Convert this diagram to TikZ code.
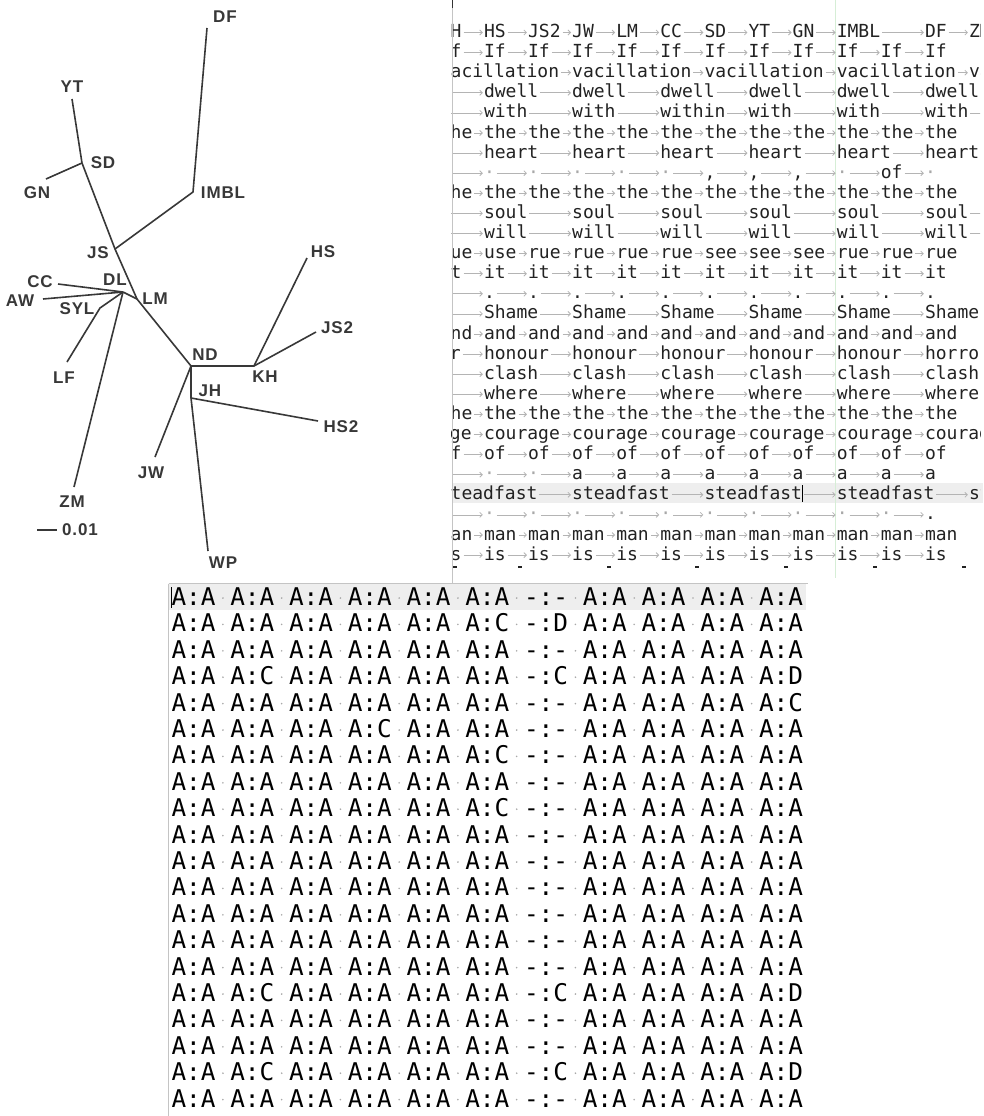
\documentclass[tikz,border=0pt]{standalone}
\usepackage{fontspec}
\usetikzlibrary{arrows.meta}
\newfontfamily\treefont{Liberation Sans}[LetterSpace=5]
\newfontfamily\monofont{DejaVu Sans Mono}
\definecolor{ink}{HTML}{383838}
\definecolor{txt}{HTML}{222222}
\definecolor{arrc}{HTML}{B4B4B4}
\definecolor{dotc}{HTML}{A8A8A8}
\definecolor{border}{HTML}{C4C4C4}
\definecolor{hl}{HTML}{EEEEEE}
\definecolor{grn}{HTML}{D6EED6}
\newcommand\tdot{\textcolor{dotc}{·}}
\newcommand\tcomma{,}
\tikzset{
 lbl/.style={font=\treefont\bfseries\fontsize{17}{17}\selectfont, text=ink, inner sep=0},
 br/.style={draw=ink, line width=1.6pt, line join=round},
 tok/.style={font=\monofont\fontsize{18}{18}\selectfont, text=txt, inner sep=0, outer sep=0, anchor=base west},
 arr/.style={draw=arrc, line width=0.8pt, -{Straight Barb[length=2.5pt,width=5pt]}},
 cell/.style={font=\monofont\fontsize{24.4}{24.4}\selectfont, text=black, inner sep=0, outer sep=0, anchor=base west},
}
\newcommand\trow[2]{%
  \foreach \kq/\tw [count=\ii, remember=\ii as \jj (initially 0)] in {#2}{%
    \node[tok] (r#1n\ii) at ({484+44.1*(\kq-1)},{31+20.1*(#1-1)+6.5}) {\tw};
    \ifnum\ii>1
      \draw[arr] ([xshift=2pt,yshift=5pt]r#1n\jj.base east) -- ([xshift=-1.2pt,yshift=5pt]r#1n\ii.base west);
    \fi
  }%
}
\newcommand\brow[2]{%
  \foreach \itm [count=\kk] in {#2}{%
    \node[cell] (b#1c\kk) at ({171.5+58.75*(\kk-1)},{597+26.4*(#1-1)+8.5}) {\itm};
  }%
  \foreach \kk in {1,...,10}{%
    \fill[dotc] ({171.5+58.75*(\kk-1)+51.4},{597+26.4*(#1-1)+1}) circle (0.9);
  }%
}
\begin{document}
\begin{tikzpicture}[x=1pt,y=-1pt]
\useasboundingbox[fill=white] (0,0) rectangle (983,1116);
% ---------------- tree ----------------
\coordinate (df) at (207,28);
\coordinate (imbl) at (193,192);
\coordinate (js) at (115,249);
\coordinate (yt) at (72,99);
\coordinate (sd) at (82,163);
\coordinate (gn) at (46,179);
\coordinate (lm) at (137,299);
\coordinate (dl) at (123,292);
\coordinate (cc) at (58,284);
\coordinate (aw) at (43,299);
\coordinate (syl) at (100,308);
\coordinate (lf) at (67,362);
\coordinate (zm) at (74,487);
\coordinate (nd) at (191,366);
\coordinate (kh) at (254,366);
\coordinate (hs) at (307,258);
\coordinate (js2) at (316,332);
\coordinate (jh) at (191,398);
\coordinate (hs2) at (318,421);
\coordinate (jw) at (155,457);
\coordinate (wp) at (208,551);
\coordinate (sa) at (37,530);
\coordinate (sb) at (57,530);
\draw[br] (df) -- (imbl) -- (js);
\draw[br] (yt) -- (sd) -- (js) -- (lm) -- (nd) -- (kh) -- (hs);
\draw[br] (gn) -- (sd);
\draw[br] (kh) -- (js2);
\draw[br] (lm) -- (dl);
\draw[br] (cc) -- (dl);
\draw[br] (aw) -- (dl);
\draw[br] (lf) -- (syl) -- (dl);
\draw[br] (zm) -- (dl);
\draw[br] (nd) -- (jh) -- (wp);
\draw[br] (jh) -- (hs2);
\draw[br] (nd) -- (jw);
\draw[br] (sa) -- (sb);
\node[lbl] (lDF) at (225,17) {DF};
\node[lbl] (lYT) at (72,87) {YT};
\node[lbl] (lSD) at (103,163) {SD};
\node[lbl] (lGN) at (37,193) {GN};
\node[lbl] (lIMBL) at (223,193) {IMBL};
\node[lbl] (lJS) at (98,253) {JS};
\node[lbl] (lCC) at (40,282) {CC};
\node[lbl] (lDL) at (115,280) {DL};
\node[lbl] (lAW) at (20,301) {AW};
\node[lbl] (lSYL) at (77,309) {SYL};
\node[lbl] (lLM) at (155,299) {LM};
\node[lbl] (lLF) at (64,378) {LF};
\node[lbl] (lZM) at (72,502) {ZM};
\node[lbl] (lND) at (205,355) {ND};
\node[lbl] (lKH) at (265,377) {KH};
\node[lbl] (lJH) at (210,391) {JH};
\node[lbl] (lHS) at (323,252) {HS};
\node[lbl] (lJS2) at (337,328) {JS2};
\node[lbl] (lHS2) at (341,427) {HS2};
\node[lbl] (lJW) at (151,473) {JW};
\node[lbl] (lWP) at (223,563) {WP};
\node[lbl] (lscale) at (80,530) {0.01};
% ---------------- top-right panel ----------------
\fill[hl] (453,483) rectangle (983,503);
\draw[grn, line width=1pt] (835.5,0) -- (835.5,578);
\begin{scope}
\clip (451,0) rectangle (980,578);
\trow{1}{0/KH,1/HS,2/JS2,3/JW,4/LM,5/CC,6/SD,7/YT,8/GN,9/IMBL,11/DF,12/ZM}
\trow{2}{0/If,1/If,2/If,3/If,4/If,5/If,6/If,7/If,8/If,9/If,10/If,11/If}
\trow{3}{0/vacillation,3/vacillation,6/vacillation,9/vacillation,12/vacillation}
\trow{4}{-1/dwell,1/dwell,3/dwell,5/dwell,7/dwell,9/dwell,11/dwell}
\trow{5}{-1/with,1/with,3/with,5/within,7/with,9/with,11/with,13/with}
\trow{6}{0/the,1/the,2/the,3/the,4/the,5/the,6/the,7/the,8/the,9/the,10/the,11/the}
\trow{7}{-1/heart,1/heart,3/heart,5/heart,7/heart,9/heart,11/heart}
\trow{8}{0/\tdot,1/\tdot,2/\tdot,3/\tdot,4/\tdot,5/\tdot,6/\tcomma,7/\tcomma,8/\tcomma,9/\tdot,10/of,11/\tdot}
\trow{9}{0/the,1/the,2/the,3/the,4/the,5/the,6/the,7/the,8/the,9/the,10/the,11/the}
\trow{10}{-1/soul,1/soul,3/soul,5/soul,7/soul,9/soul,11/soul,13/soul}
\trow{11}{-1/will,1/will,3/will,5/will,7/will,9/will,11/will,13/will}
\trow{12}{0/rue,1/use,2/rue,3/rue,4/rue,5/rue,6/see,7/see,8/see,9/rue,10/rue,11/rue}
\trow{13}{0/it,1/it,2/it,3/it,4/it,5/it,6/it,7/it,8/it,9/it,10/it,11/it}
\trow{14}{0/.,1/.,2/.,3/.,4/.,5/.,6/.,7/.,8/.,9/.,10/.,11/.}
\trow{15}{-1/Shame,1/Shame,3/Shame,5/Shame,7/Shame,9/Shame,11/Shame}
\trow{16}{0/and,1/and,2/and,3/and,4/and,5/and,6/and,7/and,8/and,9/and,10/and,11/and}
\trow{17}{-1/honour,1/honour,3/honour,5/honour,7/honour,9/honour,11/horror}
\trow{18}{-1/clash,1/clash,3/clash,5/clash,7/clash,9/clash,11/clash}
\trow{19}{-1/where,1/where,3/where,5/where,7/where,9/where,11/where}
\trow{20}{0/the,1/the,2/the,3/the,4/the,5/the,6/the,7/the,8/the,9/the,10/the,11/the}
\trow{21}{-1/courage,1/courage,3/courage,5/courage,7/courage,9/courage,11/courage}
\trow{22}{0/of,1/of,2/of,3/of,4/of,5/of,6/of,7/of,8/of,9/of,10/of,11/of}
\trow{23}{0/\tdot,1/\tdot,2/\tdot,3/a,4/a,5/a,6/a,7/a,8/a,9/a,10/a,11/a}
\trow{24}{0/steadfast,3/steadfast,6/steadfast,9/steadfast,12/steadfast}
\trow{25}{0/\tdot,1/\tdot,2/\tdot,3/\tdot,4/\tdot,5/\tdot,6/\tdot,7/\tdot,8/\tdot,9/\tdot,10/\tdot,11/.}
\trow{26}{0/man,1/man,2/man,3/man,4/man,5/man,6/man,7/man,8/man,9/man,10/man,11/man}
\trow{27}{0/is,1/is,2/is,3/is,4/is,5/is,6/is,7/is,8/is,9/is,10/is,11/is}
\foreach \dx in {455,520,609,697,786,875,964}{\fill[txt] (\dx-2,566) rectangle (\dx+2,568);}
\end{scope}
\draw[black, line width=1pt] (802.5,485) -- (802.5,502);
\draw[border, line width=1pt] (452.5,0) -- (452.5,584);
\draw[black!80, line width=1.3pt] (452.5,0) -- (452.5,8);
% ---------------- bottom panel ----------------
\fill[hl] (169,584) rectangle (806,610);
\draw[border, line width=1pt] (168.5,583.5) -- (808,583.5);
\draw[border, line width=1pt] (168.5,583.5) -- (168.5,1116);
\draw[black, line width=1pt] (171.5,587) -- (171.5,608);
\brow{1}{A:A,A:A,A:A,A:A,A:A,A:A,-:-,A:A,A:A,A:A,A:A}
\brow{2}{A:A,A:A,A:A,A:A,A:A,A:C,-:D,A:A,A:A,A:A,A:A}
\brow{3}{A:A,A:A,A:A,A:A,A:A,A:A,-:-,A:A,A:A,A:A,A:A}
\brow{4}{A:A,A:C,A:A,A:A,A:A,A:A,-:C,A:A,A:A,A:A,A:D}
\brow{5}{A:A,A:A,A:A,A:A,A:A,A:A,-:-,A:A,A:A,A:A,A:C}
\brow{6}{A:A,A:A,A:A,A:C,A:A,A:A,-:-,A:A,A:A,A:A,A:A}
\brow{7}{A:A,A:A,A:A,A:A,A:A,A:C,-:-,A:A,A:A,A:A,A:A}
\brow{8}{A:A,A:A,A:A,A:A,A:A,A:A,-:-,A:A,A:A,A:A,A:A}
\brow{9}{A:A,A:A,A:A,A:A,A:A,A:C,-:-,A:A,A:A,A:A,A:A}
\brow{10}{A:A,A:A,A:A,A:A,A:A,A:A,-:-,A:A,A:A,A:A,A:A}
\brow{11}{A:A,A:A,A:A,A:A,A:A,A:A,-:-,A:A,A:A,A:A,A:A}
\brow{12}{A:A,A:A,A:A,A:A,A:A,A:A,-:-,A:A,A:A,A:A,A:A}
\brow{13}{A:A,A:A,A:A,A:A,A:A,A:A,-:-,A:A,A:A,A:A,A:A}
\brow{14}{A:A,A:A,A:A,A:A,A:A,A:A,-:-,A:A,A:A,A:A,A:A}
\brow{15}{A:A,A:A,A:A,A:A,A:A,A:A,-:-,A:A,A:A,A:A,A:A}
\brow{16}{A:A,A:C,A:A,A:A,A:A,A:A,-:C,A:A,A:A,A:A,A:D}
\brow{17}{A:A,A:A,A:A,A:A,A:A,A:A,-:-,A:A,A:A,A:A,A:A}
\brow{18}{A:A,A:A,A:A,A:A,A:A,A:A,-:-,A:A,A:A,A:A,A:A}
\brow{19}{A:A,A:C,A:A,A:A,A:A,A:A,-:C,A:A,A:A,A:A,A:D}
\brow{20}{A:A,A:A,A:A,A:A,A:A,A:A,-:-,A:A,A:A,A:A,A:A}
\end{tikzpicture}
\end{document}
